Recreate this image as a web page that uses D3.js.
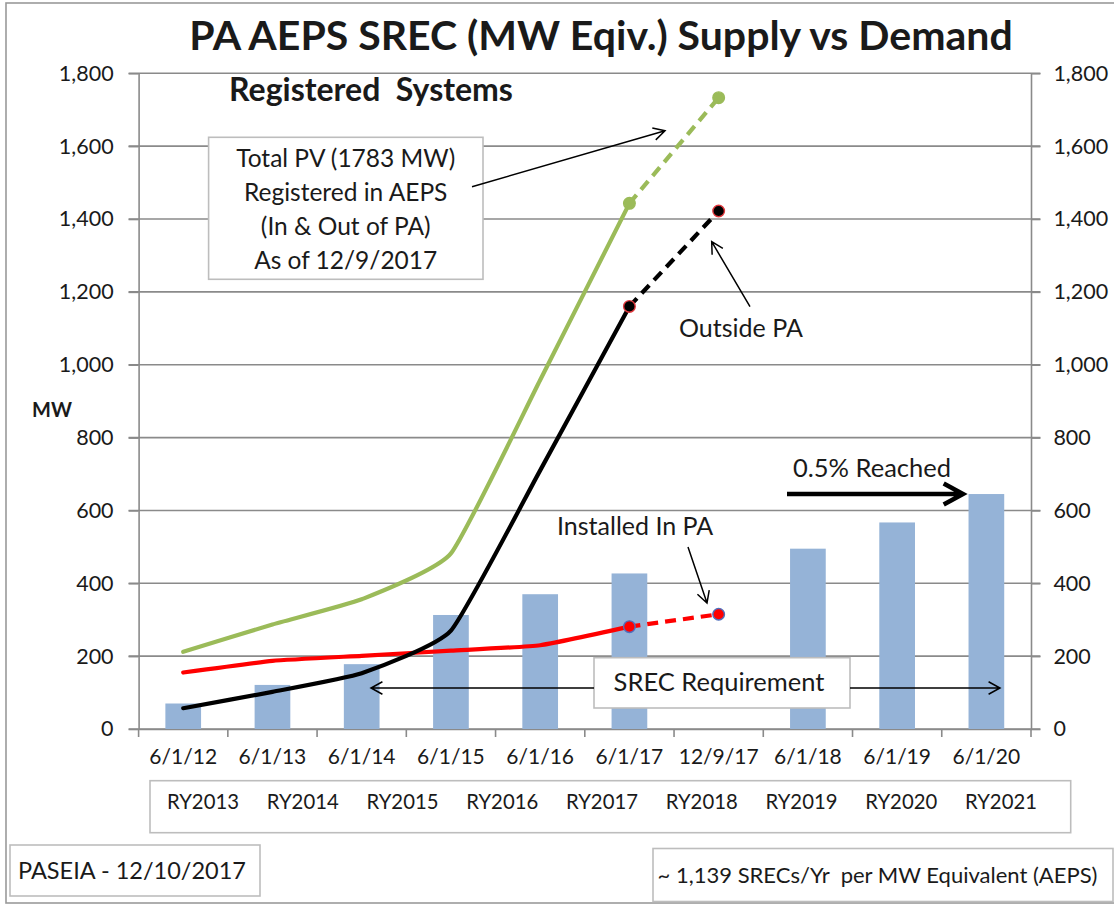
<!DOCTYPE html>
<html>
<head>
<meta charset="utf-8">
<title>PA AEPS SREC Supply vs Demand</title>
<script src="https://cdn.jsdelivr.net/npm/d3@7"></script>
<style>
    body { margin: 0; background: #fff; }
    text { font-family: Lato, "Open Sans", sans-serif; fill: #1a1a1a; }
    .axis path, .axis line { stroke: #8a8a8a; stroke-width: 1.6; }
    .y-axis text { font-size: 21.5px; }
    .x-axis text { font-size: 21px; }
    .note-box { fill: #fff; stroke: #bdbdbd; stroke-width: 1.6; }
</style>
</head>
<body>
<div id="chart-area"></div>
<script>

// x categories + the RY row under them
var dates = ["6/1/12", "6/1/13", "6/1/14", "6/1/15", "6/1/16", "6/1/17", "12/9/17", "6/1/18", "6/1/19", "6/1/20"];
var ryLabels = ["RY2013", "RY2014", "RY2015", "RY2016", "RY2017", "RY2018", "RY2019", "RY2020", "RY2021"];

// SREC requirement (MW equiv.) - no bar for 12/9/17
var srecReq = [70, 121, 178, 313, 370, 427, null, 495, 567, 645];

// registered systems, 6/1/12 thru 12/9/17 (last step is the dashed one)
var totalPV = [212, 287, 356, 482, 958, 1443, 1733];
var outsidePA = [57, 102, 153, 270, 710, 1160, 1422];
var installedPA = [155, 187, 201, 215, 230, 281, 315];

var yTicks = [0, 200, 400, 600, 800, 1000, 1200, 1400, 1600, 1800];


SupplyChart = function(_parentElement) {
    this.parentElement = _parentElement;
    this.initVis();
}

SupplyChart.prototype.initVis = function() {
    var vis = this;

    vis.width = 1114;
    vis.height = 905;
    vis.plot = { left: 138.6, right: 1031, top: 73.3, bottom: 729 };

    vis.svg = d3.select("#" + vis.parentElement).append("svg")
        .attr("width", vis.width)
        .attr("height", vis.height);

    // outer frame of the excel chart
    vis.svg.append("rect")
        .attr("x", 6).attr("y", 3)
        .attr("width", 1120).attr("height", 900)
        .attr("fill", "none")
        .attr("stroke", "#9a9a9a")
        .attr("stroke-width", 1.6);

    vis.x = d3.scaleBand()
        .domain(dates)
        .range([vis.plot.left, vis.plot.right])
        .padding(0);

    vis.y = d3.scaleLinear()
        .domain([0, 1800])
        .range([vis.plot.bottom, vis.plot.top]);

    vis.updateVis();
}

SupplyChart.prototype.updateVis = function() {
    var vis = this;
    var bw = vis.x.bandwidth();
    var cx = function(i) { return vis.x(dates[i]) + bw / 2; };

    // gridlines (run out over both tick marks like excel)
    vis.svg.append("g").selectAll(".grid")
        .data(yTicks)
        .enter().append("line")
        .attr("class", "grid")
        .attr("x1", vis.plot.left - 10)
        .attr("x2", vis.plot.right + 9.4)
        .attr("y1", function(d) { return vis.y(d); })
        .attr("y2", function(d) { return vis.y(d); })
        .attr("stroke", "#8a8a8a")
        .attr("stroke-width", 1.6);

    // axes
    vis.svg.append("g")
        .attr("class", "y-axis axis")
        .attr("transform", "translate(" + vis.plot.left + ",0)")
        .call(d3.axisLeft(vis.y).tickValues(yTicks).tickFormat(d3.format(",")).tickSize(10).tickPadding(15).tickSizeOuter(0));

    vis.svg.append("g")
        .attr("class", "y-axis axis")
        .attr("transform", "translate(" + vis.plot.right + ",0)")
        .call(d3.axisRight(vis.y).tickValues(yTicks).tickFormat(d3.format(",")).tickSize(9.4).tickPadding(13).tickSizeOuter(0));

    var xAxis = vis.svg.append("g")
        .attr("class", "x-axis axis")
        .attr("transform", "translate(0," + vis.plot.bottom + ")")
        .call(d3.axisBottom(vis.x).tickSize(0).tickSizeOuter(0));
    xAxis.selectAll("text").attr("y", 35).attr("dy", null);

    // excel puts the x ticks between the categories
    var edges = dates.map(function(d) { return vis.x(d); }).concat([vis.plot.right]);
    xAxis.selectAll(".edge")
        .data(edges)
        .enter().append("line")
        .attr("class", "edge")
        .attr("x1", function(d) { return d; })
        .attr("x2", function(d) { return d; })
        .attr("y1", 0)
        .attr("y2", 8);

    // requirement bars
    var barW = bw * 0.4;
    vis.svg.append("g").selectAll(".bar")
        .data(srecReq.map(function(v, i) { return { date: dates[i], value: v }; })
            .filter(function(d) { return d.value != null; }))
        .enter().append("rect")
        .attr("class", "bar")
        .attr("x", function(d) { return vis.x(d.date) + (bw - barW) / 2; })
        .attr("width", barW)
        .attr("y", function(d) { return vis.y(d.value); })
        .attr("height", function(d) { return vis.plot.bottom - vis.y(d.value); })
        .attr("fill", "#95b3d7");

    // lines: smoothed solid part, then a dashed last step with dots
    var series = [
        { values: installedPA, color: "#ff0000", dot: "#ff0000", ring: "#4f6fbd" },
        { values: totalPV, color: "#9bbb59", dot: "#9bbb59", ring: "#9bbb59" },
        { values: outsidePA, color: "#000000", dot: "#000000", ring: "#e0393e" }
    ];

    var smooth = d3.line()
        .x(function(d, i) { return cx(i); })
        .y(function(d) { return vis.y(d); })
        .curve(d3.curveCardinal.tension(0.55));

    var straight = d3.line()
        .x(function(d) { return cx(d.i); })
        .y(function(d) { return vis.y(d.v); });

    series.forEach(function(s) {
        var n = s.values.length;
        vis.svg.append("path")
            .attr("d", smooth(s.values.slice(0, n - 1)))
            .attr("fill", "none")
            .attr("stroke", s.color)
            .attr("stroke-width", 4.2)
            .attr("stroke-linejoin", "round")
            .attr("stroke-linecap", "round");

        var last = [{ i: n - 2, v: s.values[n - 2] }, { i: n - 1, v: s.values[n - 1] }];
        vis.svg.append("path")
            .attr("d", straight(last))
            .attr("fill", "none")
            .attr("stroke", s.color)
            .attr("stroke-width", 4.2)
            .attr("stroke-dasharray", "11,7");

        vis.svg.selectAll(null)
            .data(last)
            .enter().append("circle")
            .attr("cx", function(d) { return cx(d.i); })
            .attr("cy", function(d) { return vis.y(d.v); })
            .attr("r", 5.8)
            .attr("fill", s.dot)
            .attr("stroke", s.ring)
            .attr("stroke-width", 1.4);
    });

    vis.drawNotes();
}

// little helper for the annotation arrows (open v head)
SupplyChart.prototype.arrow = function(x1, y1, x2, y2, w, head) {
    var vis = this;
    var a = Math.atan2(y2 - y1, x2 - x1);
    var hx1 = x2 - head * Math.cos(a - 0.5), hy1 = y2 - head * Math.sin(a - 0.5);
    var hx2 = x2 - head * Math.cos(a + 0.5), hy2 = y2 - head * Math.sin(a + 0.5);
    vis.svg.append("path")
        .attr("d", "M" + x1 + "," + y1 + "L" + x2 + "," + y2 +
            "M" + hx1 + "," + hy1 + "L" + x2 + "," + y2 + "L" + hx2 + "," + hy2)
        .attr("fill", "none")
        .attr("stroke", "#000")
        .attr("stroke-width", w)
        .attr("stroke-linejoin", "miter");
}

SupplyChart.prototype.drawNotes = function() {
    var vis = this;

    vis.svg.append("text")
        .attr("x", 601).attr("y", 50)
        .attr("text-anchor", "middle")
        .attr("font-size", 41).attr("font-weight", "bold")
        .text("PA AEPS SREC (MW Eqiv.) Supply vs Demand");

    vis.svg.append("text")
        .attr("x", 371).attr("y", 101)
        .attr("text-anchor", "middle")
        .attr("font-size", 32).attr("font-weight", "bold")
        .attr("xml:space", "preserve")
        .text("Registered  Systems");

    vis.svg.append("text")
        .attr("x", 32).attr("y", 416.7)
        .attr("font-family", "'Liberation Sans', Arial, sans-serif")
        .attr("font-size", 20).attr("font-weight", "bold")
        .text("MW");

    // total pv box
    vis.svg.append("rect").attr("class", "note-box")
        .attr("x", 208.6).attr("y", 137.3).attr("width", 274.4).attr("height", 142);
    var pvLines = ["Total PV (1783 MW)", "Registered in AEPS", "(In & Out of PA)", "As of 12/9/2017"];
    vis.svg.selectAll(".pv-note")
        .data(pvLines)
        .enter().append("text")
        .attr("class", "pv-note")
        .attr("x", 345.7)
        .attr("y", function(d, i) { return 167 + i * 34; })
        .attr("text-anchor", "middle")
        .attr("font-size", 24.5)
        .text(function(d) { return d; });
    vis.arrow(472, 186.7, 665, 130.7, 1.5, 13);

    vis.svg.append("text")
        .attr("x", 679).attr("y", 337)
        .attr("font-size", 25)
        .text("Outside PA");
    vis.arrow(750, 306.7, 711.7, 241.7, 1.5, 13);

    vis.svg.append("text")
        .attr("x", 557).attr("y", 535)
        .attr("font-size", 25)
        .text("Installed In PA");
    vis.arrow(688, 547, 707, 603, 1.5, 13);

    vis.svg.append("text")
        .attr("x", 793).attr("y", 477)
        .attr("font-size", 25.5)
        .text("0.5% Reached");
    vis.arrow(787, 494, 963, 494, 4.5, 22);

    // srec requirement box with arrows both ways
    vis.svg.append("rect").attr("class", "note-box")
        .attr("x", 594).attr("y", 657.7).attr("width", 256).attr("height", 50.3);
    vis.svg.append("text")
        .attr("x", 719).attr("y", 691)
        .attr("text-anchor", "middle")
        .attr("font-size", 25.5)
        .text("SREC Requirement");
    vis.arrow(594, 688, 371, 688, 1.5, 13);
    vis.arrow(850, 688, 1000, 688, 1.5, 13);

    // RY row
    vis.svg.append("rect").attr("class", "note-box")
        .attr("x", 150).attr("y", 780.7).attr("width", 920.7).attr("height", 52);
    var ry = d3.scalePoint().domain(ryLabels).range([203, 1001]);
    vis.svg.selectAll(".ry")
        .data(ryLabels)
        .enter().append("text")
        .attr("class", "ry")
        .attr("x", function(d) { return ry(d); })
        .attr("y", 809)
        .attr("text-anchor", "middle")
        .attr("font-size", 20.3)
        .text(function(d) { return d; });

    // footer boxes
    vis.svg.append("rect").attr("class", "note-box")
        .attr("x", 10).attr("y", 845).attr("width", 250).attr("height", 51);
    vis.svg.append("text")
        .attr("x", 18).attr("y", 879)
        .attr("font-size", 23.5)
        .text("PASEIA - 12/10/2017");

    vis.svg.append("rect").attr("class", "note-box")
        .attr("x", 653).attr("y", 848.5).attr("width", 460).attr("height", 53);
    vis.svg.append("text")
        .attr("x", 657.6).attr("y", 883)
        .attr("font-size", 22)
        .attr("xml:space", "preserve")
        .text("~ 1,139 SRECs/Yr  per MW Equivalent (AEPS)");
}

var chart = new SupplyChart("chart-area");

</script>
</body>
</html>
